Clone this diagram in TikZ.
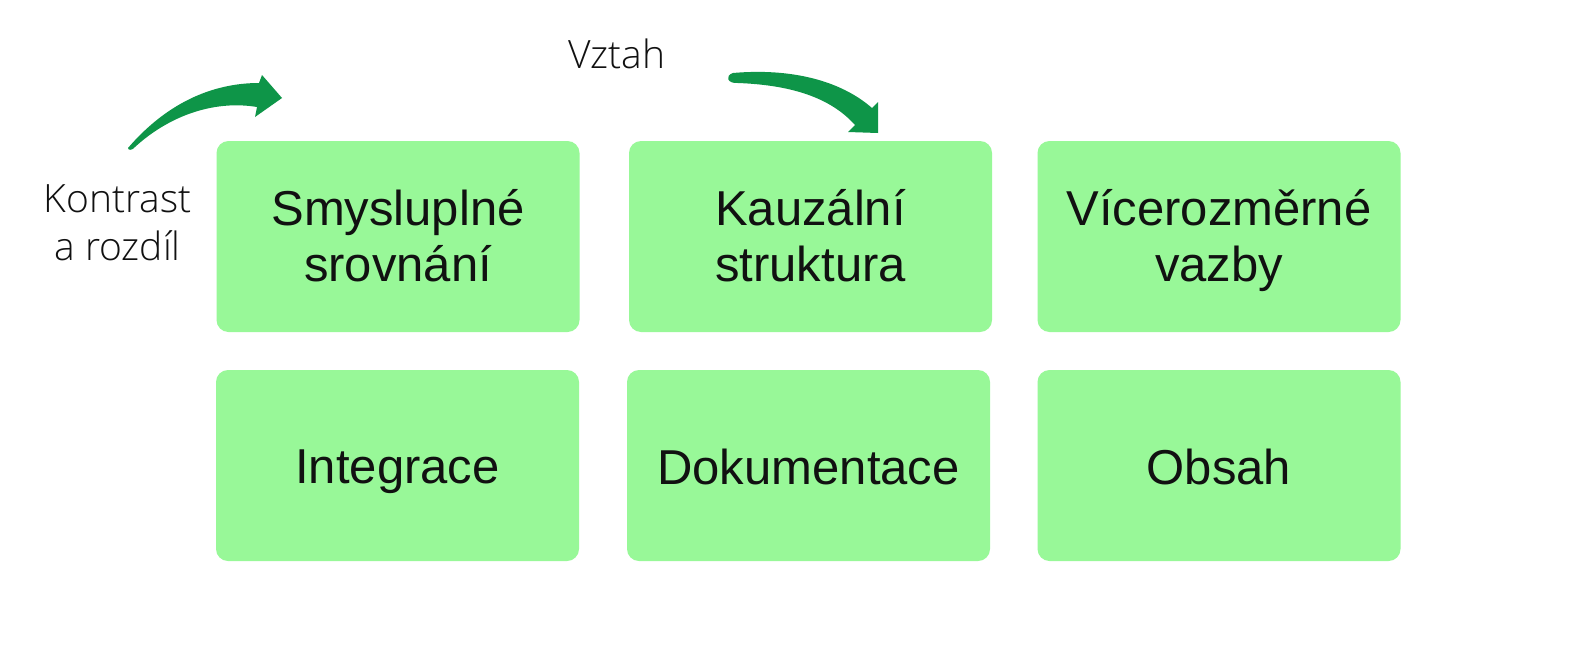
\documentclass[tikz,border=0pt]{standalone}
\usepackage{fontspec}
\setmainfont{Liberation Sans}
\newfontfamily\lightfont{Open Sans Light}
\definecolor{boxgreen}{HTML}{98F898}
\definecolor{arrowgreen}{HTML}{0E9548}
\definecolor{txt}{HTML}{111111}
\begin{document}
\begin{tikzpicture}[x=1pt,y=-1pt,
  card/.style={rectangle, rounded corners=12pt, fill=boxgreen, draw=none,
    minimum width=363pt, minimum height=191pt, inner sep=0pt},
  cardtext/.style={align=center, inner sep=0pt, text=txt, anchor=base,
    font=\fontsize{49}{56}\selectfont},
  lbl/.style={align=center, text=txt, anchor=base,
    font=\lightfont\fontsize{39}{48}\selectfont, inner sep=0pt},
  bigarrow/.style={fill=arrowgreen, draw=none}]
\useasboundingbox (0,0) rectangle (1588,672);
\fill[white] (0,0) rectangle (1588,672);

\node[card] (b1) at (398,236.5) {};
\node[card] (b2) at (810.5,236.5) {};
\node[card] (b3) at (1219,236.5) {};
\node[card] (b4) at (397.5,465.5) {};
\node[card] (b5) at (808.5,465.5) {};
\node[card] (b6) at (1219,465.5) {};

% base anchor of a two-line node = baseline of its last line
\node[cardtext] (t1) at (398,281.5) {Smysluplné\\srovnání};
\node[cardtext] (t2) at (810.5,281.5) {Kauzální\\struktura};
\node[cardtext] (t3) at (1219,281.5) {Vícerozměrné\\vazby};
\node[cardtext] (t4) at (397.5,483) {Integrace};
\node[cardtext] (t5) at (808.5,484) {Dokumentace};
\node[cardtext] (t6) at (1219,484) {Obsah};

\node[lbl] (l1) at (117.5,260) {Kontrast\\a rozdíl};
\node[lbl] (l2) at (617,68.5) {Vztah};

% left curved arrow
\path[bigarrow] (128,148) .. controls (165,105) and (210,83) .. (259,83)
  -- (262,75) -- (282,98) -- (255,117) -- (257,107)
  .. controls (215,100) and (170,115) .. (135,147)
  .. controls (133,150) and (128,151) .. cycle;

% right curved arrow
\path[bigarrow] (733,73) .. controls (790,68) and (840,80) .. (872,108)
  -- (878,102) -- (878,133) -- (848,132) -- (855,125)
  .. controls (830,97) and (790,85) .. (738,83)
  .. controls (728,84) and (724,76) .. cycle;
\end{tikzpicture}
\end{document}
